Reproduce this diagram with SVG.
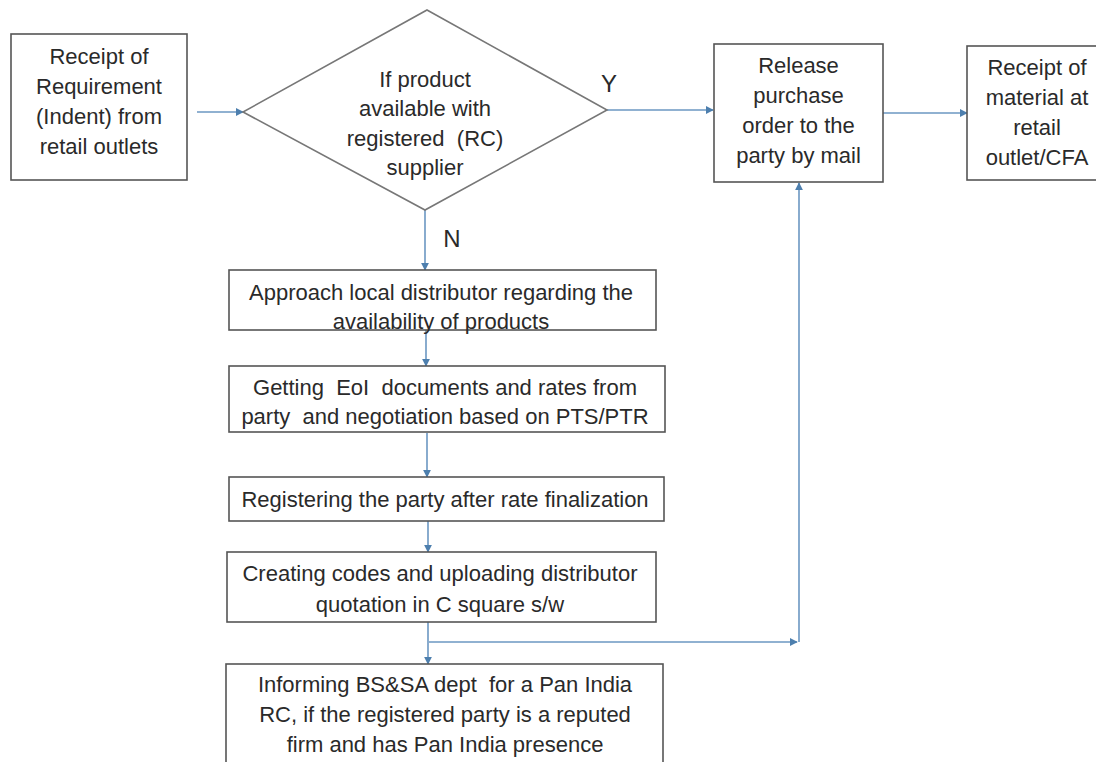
<svg xmlns="http://www.w3.org/2000/svg" width="1096" height="762" viewBox="0 0 1096 762">
<defs>
<marker id="ah" viewBox="0 0 10 10" refX="9" refY="5" markerWidth="8" markerHeight="8" markerUnits="userSpaceOnUse" orient="auto">
<path d="M0,0 L10,5 L0,10 z" fill="#4d7fae"/>
</marker>
<style>
.box{fill:#fff;stroke:#555;stroke-width:1.6}
.dia{fill:#fff;stroke:#777;stroke-width:1.6}
.t{font-family:"Liberation Sans",Arial,sans-serif;font-size:22px;fill:#2a2a2a;text-anchor:middle}
.lbl{font-family:"Liberation Sans",Arial,sans-serif;font-size:24px;fill:#2a2a2a;text-anchor:middle}
.c{fill:none;stroke:#6b97c2;stroke-width:1.6}
.ca{fill:none;stroke:#6b97c2;stroke-width:1.6;marker-end:url(#ah)}
</style>
</defs>
<rect width="1096" height="762" fill="#fff"/>

<g id="connectors">
<line class="ca" x1="197" y1="112" x2="243" y2="112"/>
<line class="ca" x1="607" y1="110" x2="713" y2="110"/>
<line class="ca" x1="883" y1="113" x2="967" y2="113"/>
<line class="ca" x1="425" y1="210" x2="425" y2="270"/>
<line class="ca" x1="426" y1="330" x2="426" y2="366"/>
<line class="ca" x1="427" y1="433" x2="427" y2="477"/>
<line class="ca" x1="428" y1="521" x2="428" y2="552"/>
<line class="ca" x1="428" y1="616" x2="428" y2="664"/>
<line class="ca" x1="429" y1="642" x2="797" y2="642"/>
<line class="ca" x1="799" y1="642" x2="799" y2="183"/>
<text class="lbl" x="609" y="92">Y</text>
<text class="lbl" x="452" y="247">N</text>
</g>

<g id="n1">
<rect class="box" x="11" y="34" width="176" height="146"/>
<text class="t" x="99" y="64">Receipt of</text>
<text class="t" x="99" y="94">Requirement</text>
<text class="t" x="99" y="124">(Indent) from</text>
<text class="t" x="99" y="154">retail outlets</text>
</g>

<g id="n2">
<polygon class="dia" points="427,10 607,110 425,210 243,112"/>
<text class="t" x="425" y="87">If product</text>
<text class="t" x="425" y="116">available with</text>
<text class="t" x="425" y="146" xml:space="preserve">registered  (RC)</text>
<text class="t" x="425" y="175">supplier</text>
</g>

<g id="n3">
<rect class="box" x="714" y="44" width="169" height="138"/>
<text class="t" x="798.5" y="73">Release</text>
<text class="t" x="798.5" y="103">purchase</text>
<text class="t" x="798.5" y="133">order to the</text>
<text class="t" x="798.5" y="163">party by mail</text>
</g>

<g id="n4">
<rect class="box" x="967" y="46" width="140" height="134"/>
<text class="t" x="1037" y="75">Receipt of</text>
<text class="t" x="1037" y="105">material at</text>
<text class="t" x="1037" y="135">retail</text>
<text class="t" x="1037" y="165">outlet/CFA</text>
</g>

<g id="n5">
<rect class="box" x="229" y="270" width="427" height="60"/>
<text class="t" x="441" y="300">Approach local distributor regarding the</text>
<text class="t" x="441" y="329">availability of products</text>
</g>

<g id="n6">
<rect class="box" x="229" y="366" width="436" height="66"/>
<text class="t" x="445" y="395" xml:space="preserve">Getting  EoI  documents and rates from</text>
<text class="t" x="445" y="424" xml:space="preserve">party  and negotiation based on PTS/PTR</text>
</g>

<g id="n7">
<rect class="box" x="229" y="477" width="435" height="44"/>
<text class="t" x="445" y="507">Registering the party after rate finalization</text>
</g>

<g id="n8">
<rect class="box" x="227" y="552" width="429" height="70"/>
<text class="t" x="440" y="581">Creating codes and uploading distributor</text>
<text class="t" x="440" y="612">quotation in C square s/w</text>
</g>

<g id="n9">
<rect class="box" x="226" y="664" width="437" height="120"/>
<text class="t" x="445" y="692" xml:space="preserve">Informing BS&amp;SA dept  for a Pan India</text>
<text class="t" x="445" y="722">RC, if the registered party is a reputed</text>
<text class="t" x="445" y="752">firm and has Pan India presence</text>
</g>
</svg>
